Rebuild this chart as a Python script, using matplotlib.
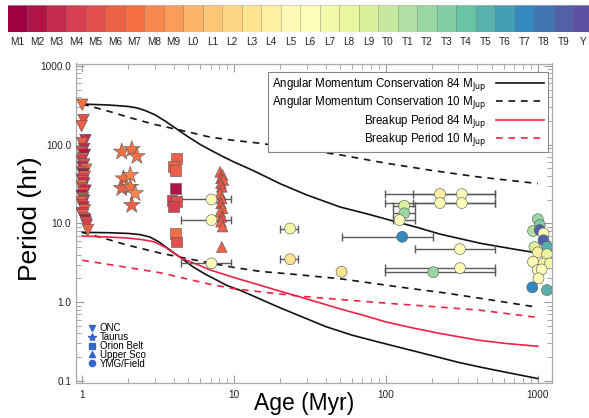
import matplotlib
matplotlib.use("Agg")
import matplotlib.pyplot as plt
import numpy as np
from matplotlib.lines import Line2D
from matplotlib.ticker import FixedLocator, FuncFormatter, LogLocator, NullFormatter

plt.rcParams['font.family'] = ['Liberation Sans', 'DejaVu Sans']

# ---------------- data ----------------
spt = ['M1', 'M2', 'M3', 'M4', 'M5', 'M6', 'M7', 'M8', 'M9',
       'L0', 'L1', 'L2', 'L3', 'L4', 'L5', 'L6', 'L7', 'L8', 'L9',
       'T0', 'T1', 'T2', 'T3', 'T4', 'T5', 'T6', 'T7', 'T8', 'T9', 'Y']
cbar_labels = spt

# model curves (age in Myr, period in hr)
amc84_hi_age = [1, 1.5, 2.0, 2.3, 2.6, 3.0, 3.5, 4.0, 5.0, 6.0, 7.0, 8.5, 10, 13.3, 20, 30,
                50, 75, 106, 160, 227, 415, 700, 1000]
amc84_hi_per = [327, 318, 305, 292, 270, 240, 200, 168, 125, 100, 85, 70, 60, 47, 32, 23,
                16.1, 13.2, 11.0, 8.9, 7.3, 5.6, 4.7, 4.2]
amc10_hi_age = [1, 1.3, 1.6, 2, 3, 4.4, 7, 10, 14.8, 30, 50, 100, 200, 400, 1000]
amc10_hi_per = [327, 285, 255, 223, 180, 153, 124, 113, 104, 85, 74, 58, 47, 39, 32]
amc84_lo_age = [1, 1.5, 2.0, 2.4, 2.8, 3.2, 3.8, 4.5, 5.4, 6.5, 7.7, 9, 10.9, 14, 20, 27,
                40, 60, 90, 124, 200, 300, 415, 600, 1000]
amc84_lo_per = [7.7, 7.6, 7.45, 7.2, 6.7, 5.8, 4.57, 3.6, 2.78, 2.25, 1.9, 1.62, 1.42, 1.15,
                0.85, 0.67, 0.49, 0.38, 0.31, 0.265, 0.21, 0.172, 0.15, 0.13, 0.107]
amc10_lo_age = [1, 1.5, 1.98, 3.26, 5, 7, 10, 15, 25, 50, 124, 250, 415, 1000]
amc10_lo_per = [7.7, 6.2, 5.3, 4.19, 3.55, 3.13, 2.75, 2.45, 2.25, 1.98, 1.55, 1.3, 1.12, 0.86]
brk84_age = [1, 1.5, 2, 2.5, 3.0, 3.5, 4.0, 4.5, 5.5, 7, 10, 14.8, 20, 30, 50, 75, 100, 150,
             227, 400, 600, 1000]
brk84_per = [6.9, 6.7, 6.5, 6.2, 5.8, 5.0, 4.2, 3.6, 3.1, 2.55, 2.05, 1.64, 1.38, 1.1, 0.82,
             0.66, 0.56, 0.47, 0.40, 0.33, 0.30, 0.275]
brk10_age = [1, 1.5, 2, 3.3, 5, 7, 10, 15, 27, 50, 100, 200, 415, 960]
brk10_per = [3.4, 3.0, 2.75, 2.35, 1.95, 1.68, 1.48, 1.35, 1.19, 1.08, 0.97, 0.88, 0.79, 0.645]

# ONC
onc_age = [1.00, 1.02, 0.99, 1.05, 1.00, 1.03, 0.99, 1.04, 1.01, 0.99, 1.03, 1.00,
           1.06, 0.99, 1.02, 1.04, 0.99, 1.01, 1.03, 0.99, 1.00, 1.05, 1.02, 0.99,
           1.01, 1.03, 0.99, 1.00, 1.02, 1.04, 0.99, 1.01, 1.03, 1.05, 1.06, 1.07, 1.09]
onc_per = [320, 205, 172, 114, 104, 88, 80, 74, 66, 62, 56, 52, 48, 45, 42, 39, 36, 34,
           32, 30, 28, 26, 24, 22.5, 21, 19.5, 18.5, 17, 16, 14.7, 13.5, 12.7, 11.5,
           11.0, 10.2, 9.5, 8.2]
onc_spt = ['M7', 'M5', 'M6', 'M3', 'M6', 'M3', 'M5', 'M2', 'M6', 'M4', 'M5', 'M3',
           'M7', 'M5', 'M2', 'M6', 'M4', 'M5', 'M3', 'M7', 'M5', 'M3', 'M6', 'M2',
           'M5', 'M4', 'M6', 'M5', 'M3', 'M6', 'M4', 'M6', 'M5', 'M2', 'M5', 'M4', 'M6']

# Taurus
tau_age = [1.82, 2.12, 2.29, 1.87, 2.07, 1.82, 2.07, 2.23, 2.12]
tau_per = [81, 87, 71, 37, 41, 27.8, 29, 24, 17]
tau_spt = ['M7', 'M7', 'M7', 'M7', 'M8', 'M6', 'M7', 'M8', 'M6']

# Orion Belt
ori_age = [4.2, 4.0, 4.1, 4.1, 3.9, 4.2, 4.0, 4.1, 4.15]
ori_per = [67, 52, 47, 27.8, 19.7, 18.8, 16.2, 7.4, 5.8]
ori_spt = ['M6', 'M6', 'M6', 'M2', 'M4', 'M5', 'M4', 'M7', 'M5']

# Upper Sco
usc_age = [8.1, 8.4, 8.2, 8.5, 8.2, 8.3, 8.1, 8.3, 8.2, 8.4, 8.1, 8.3, 8.2, 8.4, 8.3]
usc_per = [45, 41, 37.3, 35.4, 32.2, 29.1, 24.0, 20.7, 17.9, 15.5, 14.0, 12.1, 10.5, 9.1, 5.0]
usc_spt = ['M6', 'M6', 'M5', 'M6', 'M6', 'M5', 'M6', 'M6', 'M5', 'M6', 'M6', 'M5', 'M6', 'M6', 'M6']

# YMG / Field with age ranges
ymg_age = [7.1, 7.1, 7.1, 23.4, 23.4, 51, 128, 132, 132, 123, 227, 316, 227, 316, 307, 307, 205]
ymg_lo = [4.5, 4.5, 4.5, 20.2, 20.2, 51, 51, 111, 111, 111, 98, 150, 98, 150, 155, 98, 98]
ymg_hi = [9.6, 9.6, 9.6, 26.5, 26.5, 51, 203, 155, 155, 155, 520, 520, 520, 520, 520, 520, 520]
ymg_per = [20.1, 11.0, 3.1, 8.6, 3.5, 2.43, 6.75, 16.7, 13.4, 11.0, 23.5, 23.5, 18.1, 18.1, 4.7, 2.7, 2.4]
ymg_spt = ['L5', 'L5', 'L6', 'L7', 'L3', 'L3', 'T7', 'L9', 'T2', 'L6', 'L4', 'L6', 'L5', 'L6', 'L6', 'L5', 'T2']

# Field (old)
fld_age = [1000, 1030, 930, 1030, 1090, 1090, 1150, 950, 1000, 1150, 930, 1090, 1200, 1000, 1060, 1010, 920, 1150]
fld_per = [11.3, 9.5, 8.0, 8.2, 7.45, 6.1, 5.04, 5.0, 4.28, 4.06, 3.25, 3.1, 3.1, 2.55, 2.6, 2.0, 1.54, 1.42]
fld_spt = ['T2', 'T3', 'T1', 'T9', 'L5', 'T9', 'T5', 'L9', 'L4', 'L8', 'L5', 'L4', 'L7', 'L5', 'L6', 'L5', 'T7', 'T5']

# ---------------- figure ----------------
W, H = 589, 418
fig = plt.figure(figsize=(W / 100, H / 100), dpi=100)
cmap = plt.get_cmap('Spectral')
n = len(spt)


def col(s):
    return cmap(spt.index(s) / (n - 1))


# colour bar strip
cax = fig.add_axes([7.5 / W, 1 - 31.5 / H, n * 19.5 / W, 26.5 / H])
for i, s in enumerate(cbar_labels):
    cax.bar(i, 1, width=1.0, color=col(s), edgecolor=(0, 0, 0, 0.22), linewidth=0.5)
cax.set_xlim(-0.5, n - 0.5)
cax.set_ylim(0, 1)
cax.set_xticks(range(n))
cax.set_xticklabels(cbar_labels, fontsize=7.2, color='#222222')
cax.tick_params(axis='x', length=0, pad=4)
cax.set_yticks([])
for sp in cax.spines.values():
    sp.set_visible(False)

# main axes
L, R, T, B = 76, 552, 63.5, 383
ax = fig.add_axes([L / W, 1 - B / H, (R - L) / W, (B - T) / H])
ax.set_xscale('log')
ax.set_yscale('log')
ax.set_xlim(0.91, 1240)
ax.set_ylim(0.094, 1070)

blk = '#111111'
red = '#ee2244'
dsh = (4, 3.5)
l1, = ax.plot(amc84_hi_age, amc84_hi_per, color=blk, lw=1.2,
              label=r'Angular Momentum Conservation 84 M$_{\rm Jup}$')
ax.plot(amc84_lo_age, amc84_lo_per, color=blk, lw=1.2)
l2, = ax.plot(amc10_hi_age, amc10_hi_per, color=blk, lw=1.2, dashes=dsh,
              label=r'Angular Momentum Conservation 10 M$_{\rm Jup}$')
ax.plot(amc10_lo_age, amc10_lo_per, color=blk, lw=1.2, dashes=dsh)
l3, = ax.plot(brk84_age, brk84_per, color=red, lw=1.2, label=r'Breakup Period 84 M$_{\rm Jup}$')
l4, = ax.plot(brk10_age, brk10_per, color=red, lw=1.2, dashes=dsh,
              label=r'Breakup Period 10 M$_{\rm Jup}$')

# error bars for YMG / field
xerr = [np.array(ymg_age) - np.array(ymg_lo), np.array(ymg_hi) - np.array(ymg_age)]
ax.errorbar(ymg_age, ymg_per, xerr=xerr, fmt='none', ecolor='#5a5a5a', elinewidth=1.0,
            capsize=3, capthick=1.0, zorder=3)

ec = '#555555'
kw = dict(edgecolors=ec, linewidths=0.4, zorder=4)
ax.scatter(onc_age, onc_per, marker='v', s=70, c=[col(s) for s in onc_spt], **kw)
ax.scatter(tau_age, tau_per, marker='*', s=160, c=[col(s) for s in tau_spt], **kw)
ax.scatter(ori_age, ori_per, marker='s', s=62, c=[col(s) for s in ori_spt], **kw)
ax.scatter(usc_age, usc_per, marker='^', s=60, c=[col(s) for s in usc_spt], **kw)
ax.scatter(ymg_age, ymg_per, marker='o', s=62, c=[col(s) for s in ymg_spt], **kw)
ax.scatter(fld_age, fld_per, marker='o', s=62, c=[col(s) for s in fld_spt], **kw)

# ticks
ax.xaxis.set_major_locator(FixedLocator([1, 10, 100, 1000]))
ax.xaxis.set_major_formatter(FuncFormatter(lambda v, p: '%d' % round(v)))
ax.yaxis.set_major_locator(FixedLocator([0.1, 1, 10, 100, 1000]))
ax.yaxis.set_major_formatter(FuncFormatter(lambda v, p: '%.1f' % v))
ax.xaxis.set_minor_locator(LogLocator(base=10, subs=np.arange(2, 10)))
ax.yaxis.set_minor_locator(LogLocator(base=10, subs=np.arange(2, 10)))
ax.xaxis.set_minor_formatter(NullFormatter())
ax.yaxis.set_minor_formatter(NullFormatter())
ax.tick_params(which='both', direction='in', top=True, right=True, colors='#999999',
               labelcolor='#222222', labelsize=7.2)
ax.tick_params(which='major', length=6, width=0.8)
ax.tick_params(which='minor', length=3.5, width=0.6)
ax.tick_params(axis='x', pad=5)
for sp in ax.spines.values():
    sp.set_color('#aaaaaa')
    sp.set_linewidth(0.9)

ax.set_xlabel('Age (Myr)', fontsize=16.5)
ax.xaxis.set_label_coords(0.479, -0.027)
ax.set_ylabel('Period (hr)', fontsize=19)
ax.yaxis.set_label_coords(-0.071, 0.513)

leg1 = ax.legend(handles=[l1, l2, l3, l4], loc='upper right', bbox_to_anchor=(0.9916, 0.9734),
                 markerfirst=False, fontsize=8.3, handlelength=4.2, labelspacing=0.12,
                 borderpad=0.35, handletextpad=0.8, fancybox=False, framealpha=1,
                 edgecolor='#888888', borderaxespad=0)
leg1.get_frame().set_linewidth(0.8)
ax.add_artist(leg1)

blue = '#3366cc'
mh = [Line2D([], [], ls='none', marker='v', color=blue, ms=4.5),
      Line2D([], [], ls='none', marker='*', color=blue, ms=6),
      Line2D([], [], ls='none', marker='s', color=blue, ms=4),
      Line2D([], [], ls='none', marker='^', color=blue, ms=4.5),
      Line2D([], [], ls='none', marker='o', color=blue, ms=4.5)]
ax.legend(handles=mh, labels=['ONC', 'Taurus', 'Orion Belt', 'Upper Sco', 'YMG/Field'],
          loc='lower left', bbox_to_anchor=(0.025, 0.045), frameon=False, fontsize=7,
          handlelength=0.8, handletextpad=0.4, labelspacing=-0.12, borderpad=0, borderaxespad=0)

fig.savefig('out.png', dpi=100)
